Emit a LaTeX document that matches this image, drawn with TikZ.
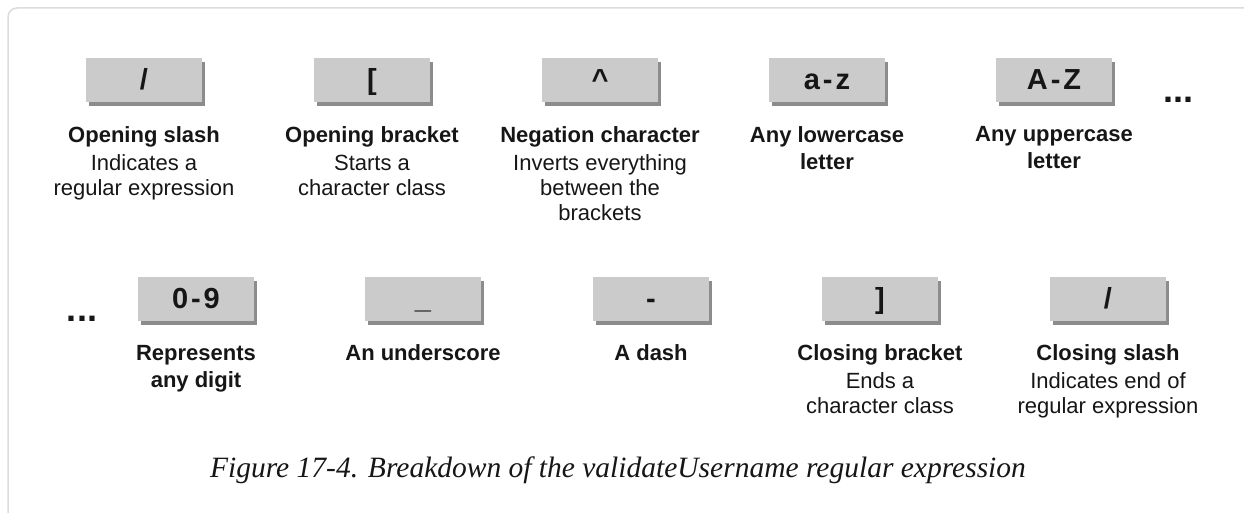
\documentclass[tikz,border=0pt]{standalone}
\usepackage{fontspec}
\setmainfont{Liberation Serif}
\setsansfont{Liberation Sans}
\newfontfamily\boxfont[LetterSpace=10]{Liberation Sans}
\usepackage{xcolor}
\usetikzlibrary{positioning,shadows}

\definecolor{boxgray}{HTML}{CBCBCB}
\definecolor{framegray}{HTML}{DCDCDC}
\definecolor{inkdark}{HTML}{161616}

\tikzset{
  regbox/.style={fill=boxgray, minimum width=116pt, minimum height=44pt, inner sep=0pt,
    text height=32pt, text depth=12pt,
    text=inkdark, font=\boxfont\bfseries\fontsize{29}{30}\selectfont,
    drop shadow={shadow xshift=3pt, shadow yshift=-4pt, opacity=0.45, fill=black}},
  lbl/.style={align=center, inner sep=0pt, text=inkdark,
    font=\sffamily\fontsize{22}{25}\selectfont},
  lblbold/.style={lbl, font=\sffamily\bfseries\fontsize{22}{27}\selectfont},
  moredots/.style={anchor=base, inner sep=0pt, text=inkdark,
    font=\sffamily\bfseries\fontsize{36}{36}\selectfont}
}

\begin{document}
\begin{tikzpicture}[x=1pt,y=1pt]
\useasboundingbox (0,0) rectangle (1244,512);
\draw[framegray, line width=1.5pt, rounded corners=9pt] (8,-40) -- (8,504) -- (1290,504);

% first row
\node[regbox] (slashopen) at (144,432) {/};
\node[regbox] (bracketopen) at (372,432) {[};
\node[regbox] (negation) at (600,432) {\^{}};
\node[regbox] (lower) at (827,432) {a-z};
\node[regbox] (upper) at (1054,432) {A-Z};
\node[moredots] (dotsA) at (1178,409) {...};

\node[lbl, below=24pt of slashopen] (slashopentxt) {\textbf{Opening slash}\\[3pt] Indicates a\\ regular expression};
\node[lbl, below=24pt of bracketopen] (bracketopentxt) {\textbf{Opening bracket}\\[3pt] Starts a\\ character class};
\node[lbl, below=24pt of negation] (negationtxt) {\textbf{Negation character}\\[3pt] Inverts everything\\ between the\\ brackets};
\node[lblbold, below=24pt of lower] (lowertxt) {Any lowercase\\ letter};
\node[lblbold, below=24pt of upper] (uppertxt) {Any uppercase\\ letter};

% second row
\node[moredots] (dotsB) at (82,191) {...};
\node[regbox] (digit) at (196,213.5) {0-9};
\node[regbox] (underscore) at (423,213.5) {\_};
\node[regbox] (dash) at (651,213.5) {-};
\node[regbox] (bracketclose) at (880,213.5) {]};
\node[regbox] (slashclose) at (1108,213.5) {/};

\node[lblbold, below=24pt of digit] (digittxt) {Represents\\ any digit};
\node[lblbold, below=24pt of underscore] (underscoretxt) {An underscore};
\node[lblbold, below=24pt of dash] (dashtxt) {A dash};
\node[lbl, below=24pt of bracketclose] (bracketclosetxt) {\textbf{Closing bracket}\\[3pt] Ends a\\ character class};
\node[lbl, below=24pt of slashclose] (slashclosetxt) {\textbf{Closing slash}\\[3pt] Indicates end of\\ regular expression};

% caption
\node[anchor=base, inner sep=0pt, text=inkdark, font=\itshape\fontsize{29.5}{32}\selectfont] (caption) at (618,35)
  {Figure 17-4. Breakdown of the validateUsername regular expression};
\end{tikzpicture}
\end{document}
